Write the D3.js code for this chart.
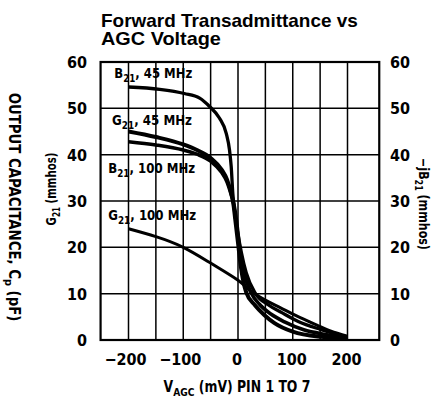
<!DOCTYPE html>
<html><head><meta charset="utf-8">
<script src="https://cdn.jsdelivr.net/npm/d3@7"></script>
<style>
body{margin:0;background:#fff;}
svg{display:block;}
text{fill:#000;}
</style></head>
<body>
<svg id="c" width="436" height="401"></svg>
<script>
// ---- data ----
const xTicks = [-200, -100, 0, 100, 200];
const yTicks = [0, 10, 20, 30, 40, 50, 60];
const xGrid = [-200, -150, -100, -50, 0, 50, 100, 150, 200];
const yGrid = [10, 20, 30, 40, 50];

// [V_AGC (mV), value (mmhos)]
const b21_45MHz = [[-200,54.6],[-143,54.1],[-98,53.2],[-70,52.2],[-52,50.4],[-34,47.9],[-21.5,44.6],[-15.5,41],[-12.4,37.4],[-9.5,31.7],[-6,27.5],[-1,23.5],[6,19],[15,14.5],[32,10],[55,7.6],[80,5.9],[110,4],[150,2.3],[200,0.65]];
const g21_45MHz = [[-200,45],[-150,43.8],[-100,42.2],[-75,41],[-50,39.3],[-30,36.8],[-20,34.6],[-12,31.5],[-8,29],[-5,26],[0,21],[5,16],[15,10.3],[31,7.5],[48,5.4],[66,3.7],[100,1.8],[146,0.75],[200,0.4]];
const b21_100MHz = [[-200,42.8],[-150,42.1],[-100,41],[-75,40.1],[-50,38.6],[-30,36.2],[-20,34.1],[-12,31.2],[-7,29],[-3,26],[3,20],[10,15],[24,10.2],[40,7.6],[60,5.6],[85,3.9],[120,2.2],[160,1.2],[200,0.5]];
const g21_100MHz = [[-200,24],[-150,22.3],[-100,20],[-50,16.6],[0,12.9],[21,10.8],[50,8.6],[77,7],[107,5.2],[146,3.1],[170,1.9],[200,0.8]];

const seriesNames = ["B", "G", "B", "G"];
const seriesFreqs = ["45 MHz", "45 MHz", "100 MHz", "100 MHz"];
const labelAnchors = [[-226,56.5],[-230,46.4],[-237,36],[-237,25.9]];
const labelWidths = [78, 80, 87, 88];

// ---- layout ----
const svg = d3.select("#c");
const x = d3.scaleLinear().domain([-200, 200]).range([128.5, 347.5]);
const y = d3.scaleLinear().domain([0, 60]).range([340, 62]);
const xL = x(-251), xR = x(258);
const cond = "'DejaVu Sans Condensed','DejaVu Sans',sans-serif";
const sans = "'Liberation Sans',Arial,sans-serif";

function fit(t, tx, ty, rot, target) {
  const w = t.node().getComputedTextLength();
  const s = target / w;
  t.attr("transform", `translate(${tx},${ty}) rotate(${rot}) scale(${s},1)`);
}

// grid
svg.append("g").selectAll("line").data(xGrid).join("line")
  .attr("x1", d => x(d)).attr("x2", d => x(d)).attr("y1", y(60)).attr("y2", y(0))
  .attr("stroke", "#000").attr("stroke-width", 1.5);
svg.append("g").selectAll("line").data(yGrid).join("line")
  .attr("x1", xL).attr("x2", xR).attr("y1", d => y(d)).attr("y2", d => y(d))
  .attr("stroke", "#000").attr("stroke-width", 1.5);
svg.append("rect").attr("x", xL).attr("y", y(60)).attr("width", xR - xL).attr("height", y(0) - y(60))
  .attr("fill", "none").attr("stroke", "#000").attr("stroke-width", 2.2);

// tick labels
svg.append("g").selectAll("text").data(yTicks).join("text")
  .attr("x", 87).attr("y", d => y(d) + 6).attr("text-anchor", "end")
  .attr("font-family", cond).attr("font-weight", "bold").attr("font-size", 16).text(d => d);
svg.append("g").selectAll("text").data(yTicks).join("text")
  .attr("x", 390).attr("y", d => y(d) + 6).attr("text-anchor", "start")
  .attr("font-family", cond).attr("font-weight", "bold").attr("font-size", 16).text(d => d);
svg.append("g").selectAll("text").data(xTicks).join("text")
  .attr("x", d => x(d) - (d < 0 ? 3 : 1)).attr("y", 365).attr("text-anchor", "middle")
  .attr("font-family", cond).attr("font-weight", "bold").attr("font-size", 16)
  .text(d => d < 0 ? "\u2212" + Math.abs(d) : d);

// curves
const lineM = d3.line().x(d => x(d[0])).y(d => y(d[1])).curve(d3.curveMonotoneX);
const lineN = d3.line().x(d => x(d[0])).y(d => y(d[1])).curve(d3.curveNatural);
const seriesData = [b21_45MHz, g21_45MHz, b21_100MHz, g21_100MHz];
const widths = [3.3, 4, 3.6, 3];
seriesData.forEach((s, i) => {
  const gen = i === 3 ? lineN : lineM;
  svg.append("path").attr("d", gen(s)).attr("fill", "none").attr("stroke", "#000")
    .attr("stroke-width", widths[i]).attr("stroke-linejoin", "round");
});

// series labels
seriesData.forEach((s, i) => {
  const t = svg.append("text").attr("font-family", cond).attr("font-weight", "bold").attr("font-size", 14);
  t.append("tspan").text(seriesNames[i]);
  t.append("tspan").attr("dy", 4).attr("font-size", 10.5).text("21");
  t.append("tspan").attr("dy", -4).text(", " + seriesFreqs[i]);
  fit(t, x(labelAnchors[i][0]), y(labelAnchors[i][1]), 0, labelWidths[i]);
});

// title
const t1 = svg.append("text").attr("font-family", sans).attr("font-weight", "bold").attr("font-size", 18).text("Forward Transadmittance vs");
fit(t1, 101, 27, 0, 257);
const t2 = svg.append("text").attr("font-family", sans).attr("font-weight", "bold").attr("font-size", 18).text("AGC Voltage");
fit(t2, 101, 45, 0, 120);

// x axis title
const xt = svg.append("text").attr("text-anchor", "middle")
  .attr("font-family", cond).attr("font-weight", "bold").attr("font-size", 15);
xt.append("tspan").text("V");
xt.append("tspan").attr("dy", 4).attr("font-size", 11).text("AGC");
xt.append("tspan").attr("dy", -4).text(" (mV) PIN 1 TO 7");
fit(xt, 237, 392, 0, 147);

// left outer title
const lt = svg.append("text").attr("text-anchor", "middle")
  .attr("font-family", cond).attr("font-weight", "bold").attr("font-size", 15);
lt.append("tspan").text("OUTPUT CAPACITANCE, C");
lt.append("tspan").attr("dy", 4).attr("font-size", 11).text("p");
lt.append("tspan").attr("dy", -4).text(" (pF)");
fit(lt, 9, 207, 90, 229);

// left inner title
const gt = svg.append("text").attr("text-anchor", "middle")
  .attr("font-family", cond).attr("font-weight", "bold").attr("font-size", 14);
gt.append("tspan").text("G");
gt.append("tspan").attr("dy", 4).attr("font-size", 10).text("21");
gt.append("tspan").attr("dy", -4).text(" (mmhos)");
fit(gt, 56, 189, -90, 73);

// right title
const rt = svg.append("text").attr("text-anchor", "middle")
  .attr("font-family", cond).attr("font-weight", "bold").attr("font-size", 14);
rt.append("tspan").text("\u2212jB");
rt.append("tspan").attr("dy", 4).attr("font-size", 10).text("21");
rt.append("tspan").attr("dy", -4).text(" (mmhos)");
fit(rt, 419, 204, 90, 92);
</script>
</body></html>
